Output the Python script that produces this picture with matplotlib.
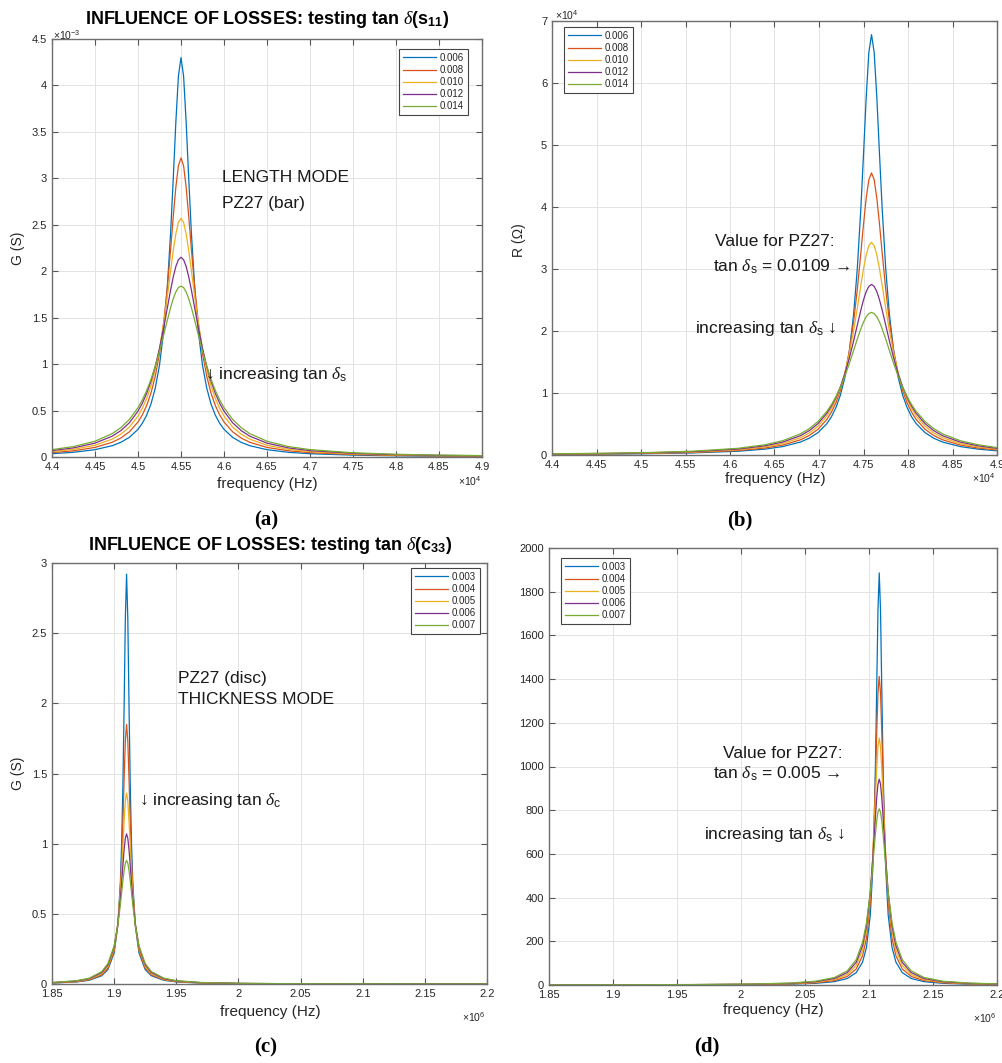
import numpy as np
import matplotlib
matplotlib.use("Agg")
import matplotlib.pyplot as plt
from matplotlib.ticker import FuncFormatter, MultipleLocator

plt.rcParams['font.family'] = ['Liberation Sans', 'DejaVu Sans']
plt.rcParams['mathtext.fontset'] = 'custom'
plt.rcParams['mathtext.rm'] = 'Liberation Sans'
plt.rcParams['mathtext.it'] = 'Liberation Serif:italic'
plt.rcParams['mathtext.bf'] = 'Liberation Sans:bold'

COLORS = ['#0072BD', '#D95319', '#EDB120', '#7E2F8E', '#77AC30']

# ---------------- (a) conductance, length mode, tan d(s11) ----------------
labels_a = ['0.006', '0.008', '0.010', '0.012', '0.014']
freq_a = [44000, 44250, 44500, 44700, 44800, 44900, 45000, 45050, 45100, 45150, 45200, 45250,
          45300, 45340, 45380, 45410, 45440, 45470, 45500, 45530, 45560, 45590, 45620, 45660,
          45700, 45750, 45800, 45850, 45900, 45950, 46000, 46100, 46200, 46300, 46500, 46750,
          47000, 47500, 48000, 48500, 49000]
G_a_006 = [0.0353, 0.0507, 0.0787, 0.1216, 0.158, 0.2116, 0.298, 0.3623, 0.449, 0.5677, 0.738, 0.988,
           1.366, 1.811, 2.426, 2.997, 3.604, 4.102, 4.300, 4.102, 3.604, 2.997, 2.426, 1.811,
           1.366, 0.988, 0.738, 0.5677, 0.449, 0.3623, 0.298, 0.2116, 0.158, 0.1216, 0.0787, 0.0507,
           0.0353, 0.0199, 0.0128, 0.0089, 0.0065]
G_a_008 = [0.0467, 0.0668, 0.1032, 0.1585, 0.204, 0.2713, 0.377, 0.4527, 0.552, 0.6854, 0.866, 1.115,
           1.459, 1.816, 2.244, 2.587, 2.904, 3.135, 3.220, 3.135, 2.904, 2.587, 2.244, 1.816,
           1.459, 1.115, 0.866, 0.6854, 0.552, 0.4527, 0.377, 0.2713, 0.204, 0.1585, 0.1032, 0.0668,
           0.0467, 0.0264, 0.0170, 0.0118, 0.0087]
G_a_010 = [0.0578, 0.0824, 0.1265, 0.1923, 0.2455, 0.3230, 0.441, 0.5232, 0.628, 0.7633, 0.938, 1.164,
           1.450, 1.720, 2.011, 2.222, 2.403, 2.526, 2.570, 2.526, 2.403, 2.222, 2.011, 1.720,
           1.450, 1.164, 0.938, 0.7633, 0.628, 0.5232, 0.441, 0.3230, 0.2455, 0.1923, 0.1265, 0.0824,
           0.0578, 0.0328, 0.0211, 0.0147, 0.0108]
G_a_012 = [0.0689, 0.0979, 0.1491, 0.2243, 0.284, 0.3688, 0.494, 0.5784, 0.683, 0.8133, 0.974, 1.169,
           1.399, 1.600, 1.802, 1.939, 2.051, 2.124, 2.150, 2.124, 2.051, 1.939, 1.802, 1.600,
           1.399, 1.169, 0.974, 0.8133, 0.683, 0.5784, 0.494, 0.3688, 0.284, 0.2243, 0.1491, 0.0979,
           0.0689, 0.0393, 0.0253, 0.0177, 0.0130]
G_a_014 = [0.0794, 0.1122, 0.1695, 0.2517, 0.3156, 0.4045, 0.531, 0.6141, 0.714, 0.8335, 0.975, 1.139,
           1.320, 1.469, 1.611, 1.704, 1.777, 1.824, 1.840, 1.824, 1.777, 1.704, 1.611, 1.469,
           1.320, 1.139, 0.975, 0.8335, 0.714, 0.6141, 0.531, 0.4045, 0.3156, 0.2517, 0.1695, 0.1122,
           0.0794, 0.0455, 0.0294, 0.0205, 0.0151]
series_a = [G_a_006, G_a_008, G_a_010, G_a_012, G_a_014]   # units of 1e-3 S

# ---------------- (b) resistance, tan d(s) ----------------
labels_b = ['0.006', '0.008', '0.010', '0.012', '0.014']
freq_b = [44000, 44590, 45090, 45590, 46090, 46390, 46590, 46790, 46890, 46990, 47090, 47140,
          47190, 47240, 47290, 47340, 47390, 47430, 47470, 47500, 47530, 47560, 47590, 47620,
          47650, 47680, 47710, 47750, 47790, 47840, 47890, 47940, 47990, 48040, 48090, 48190,
          48290, 48390, 48590, 48790, 49000]
R_b_006 = [0.0107, 0.0153, 0.0220, 0.0342, 0.0606, 0.0943, 0.135, 0.2085, 0.270, 0.3620, 0.509, 0.6179,
           0.764, 0.9641, 1.248, 1.663, 2.283, 2.999, 3.967, 4.847, 5.759, 6.492, 6.780, 6.492,
           5.759, 4.847, 3.967, 2.999, 2.283, 1.663, 1.248, 0.9641, 0.764, 0.6179, 0.509, 0.3620,
           0.270, 0.2085, 0.135, 0.0943, 0.0676]
R_b_008 = [0.0128, 0.0183, 0.0263, 0.0409, 0.0722, 0.1119, 0.1593, 0.2442, 0.314, 0.4167, 0.577, 0.6915,
           0.841, 1.0399, 1.307, 1.671, 2.164, 2.668, 3.257, 3.720, 4.139, 4.440, 4.550, 4.440,
           4.139, 3.720, 3.257, 2.668, 2.164, 1.671, 1.307, 1.0399, 0.841, 0.6915, 0.577, 0.4167,
           0.314, 0.2442, 0.1593, 0.1119, 0.0804]
R_b_010 = [0.0151, 0.0215, 0.0308, 0.0479, 0.0842, 0.1298, 0.1839, 0.2789, 0.355, 0.4663, 0.634, 0.7497,
           0.897, 1.0846, 1.325, 1.631, 2.010, 2.362, 2.735, 3.001, 3.225, 3.376, 3.430, 3.376,
           3.225, 3.001, 2.735, 2.362, 2.010, 1.631, 1.325, 1.0846, 0.897, 0.7497, 0.634, 0.4663,
           0.355, 0.2789, 0.1839, 0.1298, 0.0937]
R_b_012 = [0.0174, 0.0247, 0.0354, 0.0549, 0.0962, 0.1473, 0.2073, 0.3107, 0.392, 0.5077, 0.676, 0.7893,
           0.928, 1.0988, 1.307, 1.556, 1.845, 2.093, 2.337, 2.501, 2.634, 2.720, 2.750, 2.720,
           2.634, 2.501, 2.337, 2.093, 1.845, 1.556, 1.307, 1.0988, 0.928, 0.7893, 0.676, 0.5077,
           0.392, 0.3107, 0.2073, 0.1473, 0.1068]
R_b_014 = [0.0197, 0.0280, 0.0401, 0.0620, 0.1080, 0.1645, 0.2296, 0.3397, 0.4244, 0.5416, 0.707, 0.8138,
           0.942, 1.0927, 1.270, 1.471, 1.690, 1.869, 2.036, 2.143, 2.228, 2.281, 2.300, 2.281,
           2.228, 2.143, 2.036, 1.869, 1.690, 1.471, 1.270, 1.0927, 0.942, 0.8138, 0.707, 0.5416,
           0.4244, 0.3397, 0.2296, 0.1645, 0.1199]
series_b = [R_b_006, R_b_008, R_b_010, R_b_012, R_b_014]   # units of 1e4 Ohm

# ---------------- (c) conductance, thickness mode, tan d(c33) ----------------
labels_c = ['0.003', '0.004', '0.005', '0.006', '0.007']
freq_c = [1850000, 1870000, 1880000, 1890000, 1895000, 1900000, 1903000, 1905000, 1906000,
          1907000, 1908000, 1909000, 1910000, 1911000, 1912000, 1913000, 1914000, 1915000,
          1917000, 1920000, 1925000, 1930000, 1940000, 1950000, 1970000, 2000000, 2040000,
          2100000, 2200000]
G_c_003 = [0.0066, 0.0149, 0.0264, 0.0587, 0.1028, 0.2215, 0.419, 0.722, 0.990, 1.393, 1.963, 2.603,
           2.920, 2.603, 1.963, 1.393, 0.990, 0.722, 0.419, 0.2215, 0.1028, 0.0587, 0.0264, 0.0149,
           0.0066, 0.0030, 0.0014, 0.0007, 0.0003]
G_c_004 = [0.0075, 0.0167, 0.0295, 0.0651, 0.1127, 0.2356, 0.4245, 0.682, 0.882, 1.144, 1.452, 1.731,
           1.850, 1.731, 1.452, 1.144, 0.882, 0.682, 0.4245, 0.2356, 0.1127, 0.0651, 0.0295, 0.0167,
           0.0075, 0.0033, 0.0016, 0.0008, 0.0003]
G_c_005 = [0.0086, 0.0191, 0.0336, 0.0734, 0.1251, 0.2525, 0.432, 0.649, 0.799, 0.975, 1.157, 1.303,
           1.360, 1.303, 1.157, 0.975, 0.799, 0.649, 0.432, 0.2525, 0.1251, 0.0734, 0.0336, 0.0191,
           0.0086, 0.0038, 0.0018, 0.0009, 0.0004]
G_c_006 = [0.0097, 0.0215, 0.0377, 0.0812, 0.1363, 0.2645, 0.429, 0.607, 0.719, 0.840, 0.954, 1.038,
           1.070, 1.038, 0.954, 0.840, 0.719, 0.607, 0.429, 0.2645, 0.1363, 0.0812, 0.0377, 0.0215,
           0.0097, 0.0043, 0.0021, 0.0010, 0.0004]
G_c_007 = [0.0108, 0.0239, 0.0416, 0.0884, 0.1458, 0.2718, 0.420, 0.564, 0.648, 0.7325, 0.808, 0.861,
           0.880, 0.861, 0.808, 0.7325, 0.648, 0.564, 0.420, 0.2718, 0.1458, 0.0884, 0.0416, 0.0239,
           0.0108, 0.0048, 0.0023, 0.0011, 0.0005]
series_c = [G_c_003, G_c_004, G_c_005, G_c_006, G_c_007]

# ---------------- (d) resistance, thickness mode ----------------
labels_d = ['0.003', '0.004', '0.005', '0.006', '0.007']
freq_d = [1850000, 1908000, 1958000, 2008000, 2038000, 2058000, 2073000, 2083000, 2090000,
          2095000, 2098000, 2101000, 2103000, 2104000, 2105000, 2106000, 2107000, 2108000,
          2109000, 2110000, 2111000, 2112000, 2113000, 2115000, 2118000, 2121000, 2126000,
          2133000, 2143000, 2158000, 2178000, 2200000]
R_d_003 = [0.283, 0.471, 0.838, 1.885, 3.84, 7.51, 15.27, 29.7, 56.5, 105.4, 171.4, 319.6, 538.8,
           725.3, 992.5, 1347.0, 1714.5, 1886, 1714.5, 1347.0, 992.5, 725.3, 538.8, 319.6, 171.4,
           105.4, 56.5, 29.7, 15.27, 7.51, 3.84, 2.23]
R_d_004 = [0.377, 0.627, 1.115, 2.50, 5.10, 9.96, 20.19, 39.05, 73.4, 134.4, 213.1, 375.9, 586.7,
           743.1, 937.4, 1152.7, 1336.8, 1412, 1336.8, 1152.7, 937.4, 743.1, 586.7, 375.9, 213.1,
           134.4, 73.4, 39.05, 20.19, 9.96, 5.10, 2.96]
R_d_005 = [0.471, 0.784, 1.393, 3.13, 6.37, 12.41, 25.05, 48.1, 89.2, 159.5, 245.6, 408.8, 594.7,
           717.0, 853.4, 987.8, 1090.7, 1130, 1090.7, 987.8, 853.4, 717.0, 594.7, 408.8, 245.6,
           159.5, 89.2, 48.1, 25.05, 12.41, 6.37, 3.70]
R_d_006 = [0.566, 0.941, 1.671, 3.75, 7.63, 14.83, 29.78, 56.65, 103.5, 180.3, 269.1, 423.3, 579.7,
           672.8, 769.0, 856.4, 919.0, 942, 919.0, 856.4, 769.0, 672.8, 579.7, 423.3, 269.1,
           180.3, 103.5, 56.65, 29.78, 14.83, 7.63, 4.43]
R_d_007 = [0.659, 1.095, 1.945, 4.36, 8.86, 17.17, 34.30, 64.57, 115.9, 196.4, 284.1, 424.2, 552.3,
           622.9, 691.7, 750.8, 791.5, 806, 791.5, 750.8, 691.7, 622.9, 552.3, 424.2, 284.1,
           196.4, 115.9, 64.57, 34.30, 17.17, 8.86, 5.15]
series_d = [R_d_003, R_d_004, R_d_005, R_d_006, R_d_007]

# ---------------- figure ----------------
W, H = 1002, 1063
fig = plt.figure(figsize=(W / 100, H / 100), dpi=100)
fig.patch.set_facecolor('white')


def px_axes(l, t, r, b):
    return fig.add_axes([l / W, 1 - b / H, (r - l) / W, (b - t) / H])


def ftext(x, y, s, **kw):
    kw.setdefault('va', 'center')
    return fig.text(x / W, 1 - y / H, s, **kw)


def fmt(scale):
    return FuncFormatter(lambda v, p: f"{round(v / scale, 6):g}")


def style(ax, xlim, xstep, xscale, ylim, ystep, yscale):
    ax.set_xlim(*xlim)
    ax.set_ylim(*ylim)
    ax.xaxis.set_major_locator(MultipleLocator(xstep))
    ax.yaxis.set_major_locator(MultipleLocator(ystep))
    ax.xaxis.set_major_formatter(fmt(xscale))
    ax.yaxis.set_major_formatter(fmt(yscale))
    ax.grid(True, color='#e3e3e3', lw=0.7)
    ax.set_axisbelow(True)
    for s in ax.spines.values():
        s.set_color('#6e6e6e')
        s.set_linewidth(1.0)
    ax.tick_params(direction='in', top=True, right=True, length=4, width=0.8,
                   color='#555555', labelsize=8, labelcolor='#262626', pad=3.5)


def legend(ax, labels, anchor, loc):
    lg = ax.legend(labels, loc=loc, bbox_to_anchor=anchor, fontsize=7, frameon=True,
                   fancybox=False, framealpha=1, edgecolor='#444444', borderpad=0.4,
                   labelspacing=0.22, handlelength=3.4, handletextpad=0.4,
                   borderaxespad=0.0)
    lg.get_frame().set_linewidth(0.8)
    for t in lg.get_texts():
        t.set_color('#262626')


def draw(ax, freq, series, scale):
    f = np.asarray(freq, dtype=float)
    for vals, c in zip(series, COLORS):
        ax.plot(f, np.asarray(vals) * scale, color=c, lw=0.9)


TXT = dict(fontsize=12.5, color='#1a1a1a')
PANEL = dict(ha='center', fontsize=15, family='Liberation Serif', fontweight='bold')

# (a)
axa = px_axes(52, 39, 482, 457)
draw(axa, freq_a, series_a, 1e-3)
style(axa, (44000, 49000), 500, 1e4, (0, 4.5e-3), 0.5e-3, 1e-3)
legend(axa, labels_a, (1 - 14 / 430, 1 - 10 / 418), 'upper right')
ftext(267, 19, r"INFLUENCE OF LOSSES: testing tan $\delta$(s$_{\mathbf{11}}$)",
      ha='center', fontsize=13, fontweight='bold')
ftext(53, 35, "×10$^{-3}$", ha='left', fontsize=7.5, color='#262626')
ftext(470, 481, "×10$^{4}$", ha='center', fontsize=7.5, color='#262626')
ftext(267, 484, "frequency (Hz)", ha='center', fontsize=11, color='#262626')
ftext(18, 248, "G (S)", ha='center', rotation=90, fontsize=10, color='#262626')
ftext(222, 177, "LENGTH MODE", ha='left', **TXT)
ftext(222, 203, "PZ27 (bar)", ha='left', **TXT)
ftext(205, 374, r"↓ increasing tan $\delta_{\mathrm{s}}$", ha='left', **TXT)
ftext(266, 520, "(a)", **PANEL)

# (b)
axb = px_axes(552, 21, 997, 455)
draw(axb, freq_b, series_b, 1e4)
style(axb, (44000, 49000), 500, 1e4, (0, 7e4), 1e4, 1e4)
legend(axb, labels_b, (12 / 445, 1 - 6 / 434), 'upper left')
ftext(555, 15, "×10$^{4}$", ha='left', fontsize=7.5, color='#262626')
ftext(996, 478, "×10$^{4}$", ha='right', fontsize=7.5, color='#262626')
ftext(775, 479, "frequency (Hz)", ha='center', fontsize=11, color='#262626')
ftext(519, 240, "R (Ω)", ha='center', rotation=90, fontsize=10, color='#262626')
ftext(715, 242, "Value for PZ27:", ha='left', **TXT)
ftext(713, 267, r"tan $\delta_{\mathrm{s}}$ = 0.0109 →", ha='left', **TXT)
ftext(695, 328, r"increasing tan $\delta_{\mathrm{s}}$ ↓", ha='left', **TXT)
ftext(740, 520, "(b)", **PANEL)

# (c)
axc = px_axes(52, 563, 487, 984)
draw(axc, freq_c, series_c, 1.0)
style(axc, (1.85e6, 2.2e6), 0.05e6, 1e6, (0, 3), 0.5, 1.0)
legend(axc, labels_c, (1 - 7 / 435, 1 - 5 / 421), 'upper right')
ftext(270, 545, r"INFLUENCE OF LOSSES: testing tan $\delta$(c$_{\mathbf{33}}$)",
      ha='center', fontsize=13, fontweight='bold')
ftext(474, 1017, "×10$^{6}$", ha='center', fontsize=7.5, color='#262626')
ftext(270, 1012, "frequency (Hz)", ha='center', fontsize=11, color='#262626')
ftext(18, 773, "G (S)", ha='center', rotation=90, fontsize=10, color='#262626')
ftext(178, 678, "PZ27 (disc)", ha='left', **TXT)
ftext(178, 699, "THICKNESS MODE", ha='left', **TXT)
ftext(139, 801, r"↓ increasing tan $\delta_{\mathrm{c}}$", ha='left', **TXT)
ftext(266, 1047, "(c)", **PANEL)

# (d)
axd = px_axes(549, 548, 997, 985)
draw(axd, freq_d, series_d, 1.0)
style(axd, (1.85e6, 2.2e6), 0.05e6, 1e6, (0, 2000), 200, 1.0)
legend(axd, labels_d, (12 / 448, 1 - 10 / 437), 'upper left')
ftext(996, 1018, "×10$^{6}$", ha='right', fontsize=7.5, color='#262626')
ftext(773, 1010, "frequency (Hz)", ha='center', fontsize=11, color='#262626')
ftext(723, 753, "Value for PZ27:", ha='left', **TXT)
ftext(713, 774, r"tan $\delta_{\mathrm{s}}$ = 0.005 →", ha='left', **TXT)
ftext(704, 835, r"increasing tan $\delta_{\mathrm{s}}$ ↓", ha='left', **TXT)
ftext(707, 1046, "(d)", **PANEL)

fig.savefig("out.png", dpi=100, facecolor='white')
